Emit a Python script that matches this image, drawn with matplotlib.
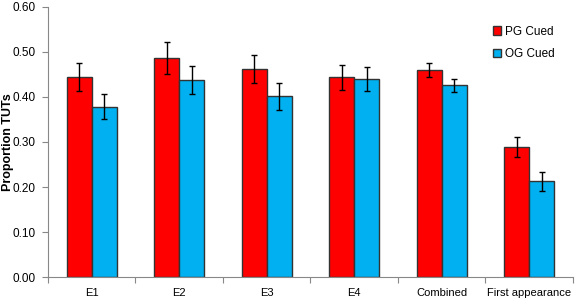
import matplotlib.pyplot as plt
import numpy as np

plt.rcParams['font.family'] = ['Liberation Sans', 'DejaVu Sans']

categories = ['E1', 'E2', 'E3', 'E4', 'Combined', 'First appearance']
pg_cued = [0.444, 0.487, 0.462, 0.444, 0.460, 0.289]
pg_err = [0.031, 0.035, 0.031, 0.028, 0.015, 0.022]
og_cued = [0.378, 0.438, 0.402, 0.440, 0.426, 0.213]
og_err = [0.028, 0.031, 0.030, 0.027, 0.014, 0.021]

fig = plt.figure(figsize=(5.77, 2.98), dpi=100)
ax = fig.add_axes([0.083, 0.07, 0.91, 0.907])

x = np.arange(len(categories))
w = 0.286
err_kw = dict(ecolor='black', elinewidth=1, capsize=2.5, capthick=1)
ax.bar(x - w / 2, pg_cued, w, yerr=pg_err, color='#ff0000', edgecolor='#333333',
       linewidth=1, label='PG Cued', error_kw=err_kw)
ax.bar(x + w / 2, og_cued, w, yerr=og_err, color='#00b0f0', edgecolor='#333333',
       linewidth=1, label='OG Cued', error_kw=err_kw)

ax.set_xlim(-0.5, len(categories) - 0.5)
ax.set_ylim(0, 0.6)
ax.set_yticks(np.arange(0, 0.61, 0.1))
ax.set_yticklabels(['%.2f' % v for v in np.arange(0, 0.61, 0.1)], fontsize=8.5)

# boundary tick marks, labels centred on categories
ax.set_xticks(np.arange(-0.5, len(categories), 1.0))
ax.set_xticklabels([])
ax.set_xticks(x, minor=True)
ax.set_xticklabels(categories, minor=True, fontsize=8)
ax.tick_params(axis='x', which='major', length=4, color='#888888')
ax.tick_params(axis='x', which='minor', length=0, pad=8)
ax.tick_params(axis='y', length=4, color='#888888', pad=5)

for s in ['top', 'right']:
    ax.spines[s].set_visible(False)
for s in ['left', 'bottom']:
    ax.spines[s].set_color('#888888')

ax.set_ylabel('Proportion TUTs', fontsize=9, fontweight='bold')
ax.yaxis.set_label_coords(-0.064, 0.5)

ax.legend(loc='upper right', bbox_to_anchor=(0.985, 0.97), frameon=False, fontsize=8.5,
          handlelength=0.7, handleheight=0.7, handletextpad=0.3, labelspacing=0.9)

fig.savefig('out.png', dpi=100)
